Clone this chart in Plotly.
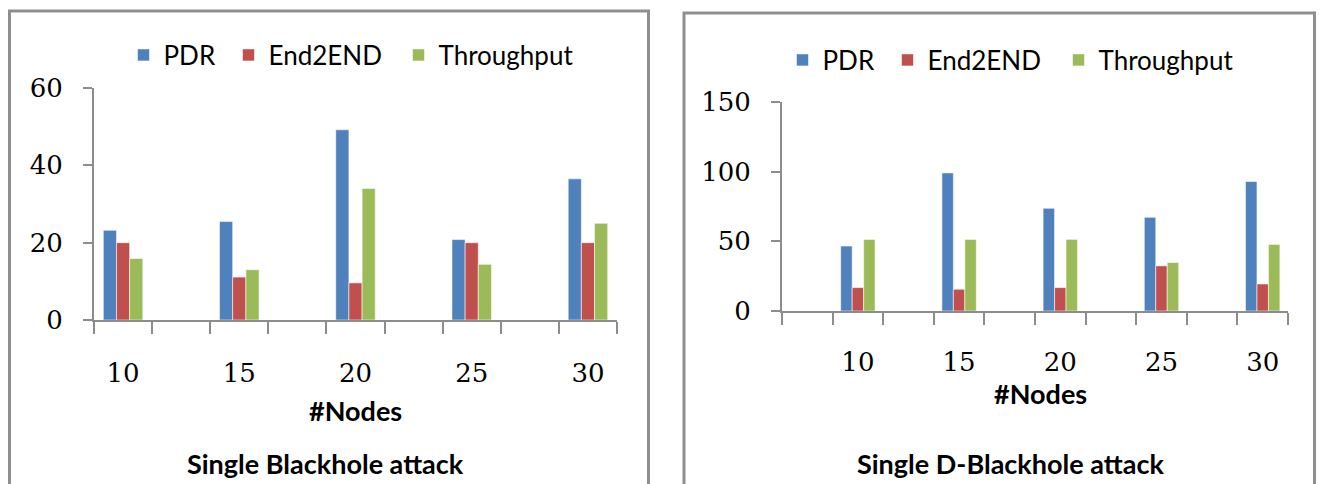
import plotly.graph_objects as go

W, H = 1320, 484

# ---- data ----
series_names = ["PDR", "End2END", "Throughput"]
series_colors = ["#4F81BD", "#C0504D", "#9BBB59"]

nodes = ["10", "15", "20", "25", "30"]

# slot layout of the category axis (blank slots are empty categories)
left_slots = ["10", "", "15", "", "20", "", "25", "", "30"]
right_slots = ["", "10", "", "15", "", "20", "", "25", "", "30"]

left_pdr = [23.2, 25.5, 49.2, 20.8, 36.5]
left_e2e = [20.0, 11.1, 9.6, 20.0, 20.0]
left_thr = [15.9, 13.0, 34.0, 14.4, 25.0]

right_pdr = [46.6, 99.1, 73.7, 67.2, 92.9]
right_e2e = [16.8, 15.6, 16.8, 32.4, 19.4]
right_thr = [51.4, 51.4, 51.4, 34.8, 47.8]

left_yticks = [0, 20, 40, 60]
right_yticks = [0, 50, 100, 150]

left_title = "Single Blackhole attack"
right_title = "Single D-Blackhole attack"
x_title = "#Nodes"

LABEL_FONT = "Lato, Calibri, Carlito, sans-serif"
NUM_FONT = "DejaVu Serif, Cambria, serif"
AXIS_COLOR = "#8c8c8c"

# legend entry positions (left edge of each entry, px) for left / right panel
left_legend_x = [123.5, 228.5, 398.5]
right_legend_x = [782.5, 887.5, 1058.5]


def slot_values(slots, vals):
    out = []
    for s in slots:
        out.append(vals[nodes.index(s)] if s in nodes else None)
    return out


def px_x(p):
    return p / W


def px_y(p):
    return 1 - p / H


fig = go.Figure()

legend_layouts = {}
legend_common = dict(orientation="h", xanchor="left", yanchor="middle",
                     font=dict(family=LABEL_FONT, size=26, color="black"),
                     bgcolor="rgba(0,0,0,0)", borderwidth=0, visible=True)

for i, (name, color, lv, rv) in enumerate(zip(series_names, series_colors,
                                              [left_pdr, left_e2e, left_thr],
                                              [right_pdr, right_e2e, right_thr])):
    lname_left = "legend" if i == 0 else f"legend{i + 1}"
    lname_right = f"legend{i + 4}"
    legend_layouts[lname_left] = dict(x=px_x(left_legend_x[i]), y=px_y(55), **legend_common)
    legend_layouts[lname_right] = dict(x=px_x(right_legend_x[i]), y=px_y(60), **legend_common)
    fig.add_trace(go.Bar(
        x=list(range(len(left_slots))), y=slot_values(left_slots, lv),
        name=name, showlegend=True,
        marker=dict(color=color, line=dict(color="rgba(255,255,255,0.55)", width=1)),
        xaxis="x", yaxis="y", legend=lname_left, offsetgroup=name + "L"))
    fig.add_trace(go.Bar(
        x=list(range(len(right_slots))), y=slot_values(right_slots, rv),
        name=name, showlegend=True,
        marker=dict(color=color, line=dict(color="rgba(255,255,255,0.55)", width=1)),
        xaxis="x2", yaxis="y2", legend=lname_right, offsetgroup=name + "R"))


def xaxis_cfg(slots, x0, x1, anchor, standoff):
    n = len(slots)
    centers = [i for i, s in enumerate(slots) if s]
    return dict(
        domain=[px_x(x0), px_x(x1)], anchor=anchor, automargin=False,
        range=[-0.5, n - 0.5], tickmode="array",
        tickvals=centers, ticktext=[slots[i] for i in centers],
        ticks="", ticklabelstandoff=standoff,
        tickfont=dict(family=NUM_FONT, size=26, color="black"),
        showline=True, linecolor=AXIS_COLOR, linewidth=2,
        showgrid=False, zeroline=False, fixedrange=True,
        minor=dict(tickmode="array", tickvals=[i - 0.5 for i in range(n + 1)],
                   ticks="outside", ticklen=12, tickwidth=2, tickcolor=AXIS_COLOR,
                   showgrid=False),
    )


def yaxis_cfg(ticks, y_top, y_bot, anchor):
    return dict(
        domain=[px_y(y_bot), px_y(y_top)], anchor=anchor, automargin=False,
        range=[ticks[0], ticks[-1]], tickmode="array", tickvals=ticks,
        ticks="outside", ticklen=9, tickwidth=2, tickcolor=AXIS_COLOR,
        ticklabelstandoff=15,
        tickfont=dict(family=NUM_FONT, size=26, color="black"),
        showline=True, linecolor=AXIS_COLOR, linewidth=2,
        showgrid=False, zeroline=False, fixedrange=True,
    )


fig.update_layout(
    width=W, height=H,
    showlegend=True,
    margin=dict(l=0, r=0, t=0, b=0, autoexpand=False),
    paper_bgcolor="white", plot_bgcolor="white",
    barmode="group", bargap=0.32, bargroupgap=0,
    xaxis=xaxis_cfg(left_slots, 94, 617, "y", 29),
    yaxis=yaxis_cfg(left_yticks, 88, 320, "x"),
    xaxis2=xaxis_cfg(right_slots, 782, 1288, "y2", 27),
    yaxis2=yaxis_cfg(right_yticks, 102, 311, "x2"),
    shapes=[
        dict(type="rect", xref="paper", yref="paper",
             x0=px_x(9.5), x1=px_x(648.5), y0=-0.05, y1=px_y(11),
             line=dict(color="#8f8f8f", width=3), fillcolor="rgba(0,0,0,0)"),
        dict(type="rect", xref="paper", yref="paper",
             x0=px_x(684), x1=px_x(1314.5), y0=-0.05, y1=px_y(13),
             line=dict(color="#8f8f8f", width=3), fillcolor="rgba(0,0,0,0)"),
    ],
    annotations=[
        dict(text="<b>" + x_title + "</b>", x=px_x(355), y=px_y(410), xref="paper", yref="paper",
             showarrow=False, xanchor="center", yanchor="middle",
             font=dict(family=LABEL_FONT, size=27, color="black")),
        dict(text="<b>" + x_title + "</b>", x=px_x(1040), y=px_y(393), xref="paper", yref="paper",
             showarrow=False, xanchor="center", yanchor="middle",
             font=dict(family=LABEL_FONT, size=27, color="black")),
        dict(text="<b>" + left_title + "</b>", x=px_x(325), y=px_y(463), xref="paper", yref="paper",
             showarrow=False, xanchor="center", yanchor="middle",
             font=dict(family=LABEL_FONT, size=27, color="black")),
        dict(text="<b>" + right_title + "</b>", x=px_x(1010), y=px_y(463), xref="paper", yref="paper",
             showarrow=False, xanchor="center", yanchor="middle",
             font=dict(family=LABEL_FONT, size=27, color="black")),
    ],
    **legend_layouts,
)

fig.write_html("out.html")
